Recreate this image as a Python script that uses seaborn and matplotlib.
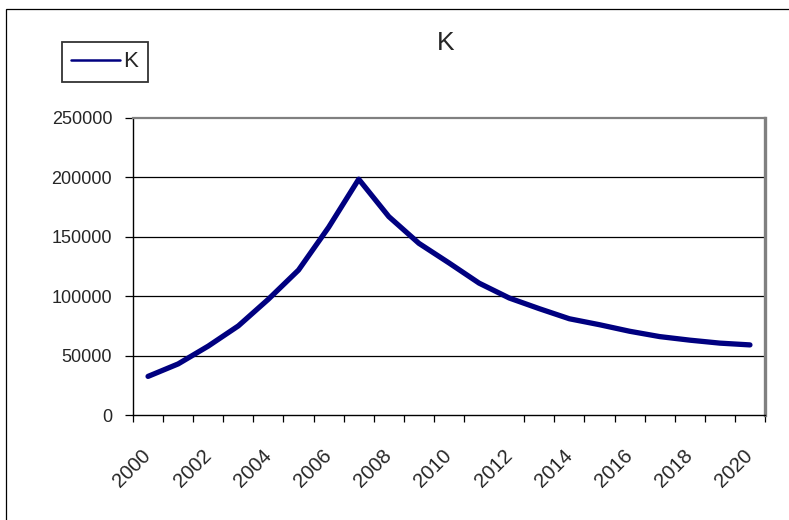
import matplotlib
matplotlib.use("Agg")
import matplotlib.pyplot as plt
from matplotlib.patches import Rectangle
from matplotlib.ticker import FixedLocator, NullFormatter
import numpy as np
import pandas as pd
import seaborn as sns

# Series K by year
years = list(range(2000, 2021))
k_values = [32500, 43000, 58000, 75000, 97500, 122000, 158000, 198500,
            167000, 144500, 128000, 111000, 98500, 89500, 81000, 76000,
            70500, 66000, 63000, 60500, 59000]
y_ticks = [0, 50000, 100000, 150000, 200000, 250000]
x_tick_labels = [str(y) for y in range(2000, 2021, 2)]
series_name = "K"

df = pd.DataFrame({"year": years, "value": k_values})

sns.set_theme(style="white")
plt.rcParams["font.family"] = ["Liberation Sans", "DejaVu Sans"]

W, H = 789, 520
fig = plt.figure(figsize=(W / 100, H / 100), dpi=100)
fig.patch.set_facecolor("white")

# outer chart frame
fig.add_artist(Rectangle((6 / W, -0.05), 1.2, 1 - 9 / H + 0.05,
                         transform=fig.transFigure, fill=False,
                         edgecolor="black", linewidth=0.9))

left, right, top, bottom = 133, 765, 118, 415
ax = fig.add_axes([left / W, 1 - bottom / H, (right - left) / W, (bottom - top) / H])

sns.lineplot(data=df, x="year", y="value", ax=ax, color="#000080",
             linewidth=3.8, label=series_name, solid_capstyle="round",
             solid_joinstyle="round")

ax.set_xlim(years[0] - 0.5, years[-1] + 0.5)
ax.set_ylim(y_ticks[0], y_ticks[-1])
ax.set_xlabel("")
ax.set_ylabel("")

# horizontal gridlines
ax.set_yticks(y_ticks)
ax.set_yticklabels([str(v) for v in y_ticks])
for v in y_ticks[1:-1]:
    ax.axhline(v, color="black", linewidth=0.9, zorder=1)

# category boundaries carry the tick marks, labels sit at category centres
bounds = [y - 0.5 for y in years] + [years[-1] + 0.5]
bounds = [b for b in bounds if b != 2011.5]
ax.xaxis.set_major_locator(FixedLocator(bounds))
ax.xaxis.set_major_formatter(NullFormatter())
label_pos = [int(s) for s in x_tick_labels]
ax.xaxis.set_minor_locator(FixedLocator(label_pos))
ax.set_xticklabels(x_tick_labels, minor=True)
ax.tick_params(axis="x", which="major", direction="out", length=5,
               width=0.9, color="black", bottom=True)
ax.tick_params(axis="x", which="minor", length=0, pad=27, labelsize=14.5)
for lbl in ax.get_xticklabels(minor=True):
    lbl.set_rotation(45)
    lbl.set_ha("right")
    lbl.set_va("center")
    lbl.set_rotation_mode("anchor")

ax.tick_params(axis="y", direction="out", length=6, width=0.9,
               color="black", left=True, pad=9, labelsize=13)

for side in ["left", "bottom"]:
    ax.spines[side].set_color("black")
    ax.spines[side].set_linewidth(1.0)
ax.spines["right"].set_color("#808080")
ax.spines["right"].set_linewidth(2.4)
ax.spines["top"].set_color("#808080")
ax.spines["top"].set_linewidth(1.6)
for s in ax.spines.values():
    s.set_visible(True)

leg = ax.legend(loc="upper left", bbox_to_anchor=(62 / W, 1 - 42 / H),
                bbox_transform=fig.transFigure, frameon=True, fancybox=False,
                fontsize=16, handlelength=2.2, handletextpad=0.15,
                borderpad=0.42, borderaxespad=0)
leg.get_frame().set_edgecolor("black")
leg.get_frame().set_linewidth(1.3)
for h in leg.get_lines():
    h.set_linewidth(1.8)

fig.text(446 / W, 1 - 43 / H, series_name, ha="center", va="center",
         fontsize=19)

fig.savefig("out.png", dpi=100, facecolor="white")
